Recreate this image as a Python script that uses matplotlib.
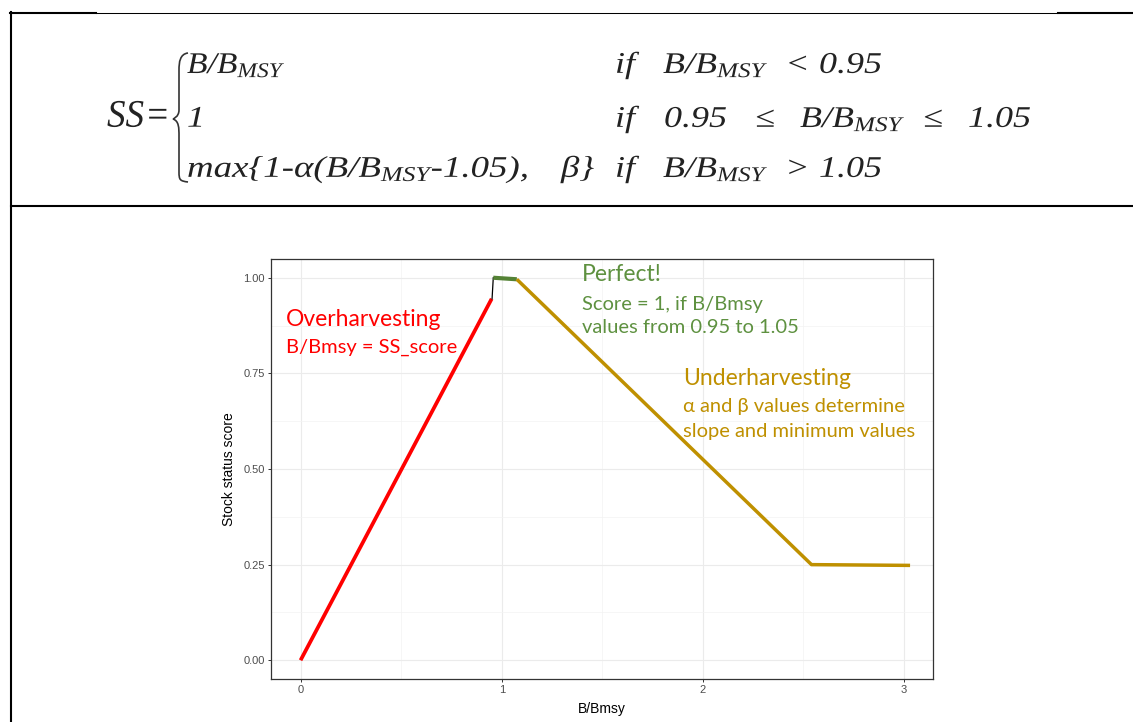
"""
Stock status score: piecewise formula on top, ggplot-style curve below.
"""

import matplotlib
matplotlib.use('Agg')
import matplotlib.pyplot as plt
from matplotlib.path import Path
from matplotlib.patches import PathPatch
from matplotlib.textpath import TextPath
from matplotlib.transforms import Affine2D

# =============================================================================
# DATA
# =============================================================================

over_x = [0.0, 0.95]
over_y = [0.0, 0.945]
jump_x = [0.952, 0.958]
jump_y = [0.945, 1.0]
perfect_x = [0.958, 1.075]
perfect_y = [1.0, 0.996]
under_x = [1.075, 2.54, 3.03]
under_y = [0.996, 0.25, 0.248]

x_ticks = [0, 1, 2, 3]
y_ticks = [0.0, 0.25, 0.5, 0.75, 1.0]
y_tick_labels = ['0.00', '0.25', '0.50', '0.75', '1.00']

RED = '#FF0000'
GREEN = '#5E9140'
GREEN_LINE = '#548235'
GOLD = '#BF9000'
INK = '#222222'

W, H = 1133, 722

plt.rcParams['mathtext.fontset'] = 'custom'
plt.rcParams['mathtext.rm'] = 'Liberation Serif:italic'
plt.rcParams['mathtext.it'] = 'Liberation Serif:italic'
plt.rcParams['mathtext.fallback'] = 'stix'

fig = plt.figure(figsize=(W / 100, H / 100), dpi=100)

# =============================================================================
# CHART
# =============================================================================

ax_l, ax_r, ax_t, ax_b = 271, 933, 259, 679
ax = fig.add_axes([ax_l / W, (H - ax_b) / H, (ax_r - ax_l) / W, (ax_b - ax_t) / H])
ax.set_xlim(-0.147, 3.144)
ax.set_ylim(-0.049, 1.049)

ax.plot(over_x, over_y, color=RED, lw=2.7, solid_capstyle='butt', zorder=3)
ax.plot(jump_x, jump_y, color='black', lw=0.9, zorder=3)
ax.plot(perfect_x, perfect_y, color=GREEN_LINE, lw=3.0, solid_capstyle='butt', zorder=3)
ax.plot(under_x, under_y, color=GOLD, lw=2.5, solid_capstyle='butt', zorder=3)

ax.set_xticks(x_ticks)
ax.set_xticks([0.5, 1.5, 2.5], minor=True)
ax.set_yticks(y_ticks)
ax.set_yticklabels(y_tick_labels)
ax.set_yticks([0.125, 0.375, 0.625, 0.875], minor=True)
ax.grid(which='major', color='#EBEBEB', lw=0.8)
ax.grid(which='minor', color='#F3F3F3', lw=0.5)
ax.set_axisbelow(True)
for sp in ax.spines.values():
    sp.set_color('#333333')
    sp.set_linewidth(0.9)
ax.tick_params(which='major', length=2.5, width=0.7, color='#333333',
               labelsize=8, labelcolor='#4D4D4D', pad=2)
ax.tick_params(which='minor', length=0)
for lab in ax.get_xticklabels() + ax.get_yticklabels():
    lab.set_family('Liberation Sans')
ax.set_xlabel('B/Bmsy', fontsize=10, family='Liberation Sans', labelpad=5)
ax.set_ylabel('Stock status score', fontsize=10, family='Liberation Sans', labelpad=5)

# =============================================================================
# OVERLAY (table lines, formula, annotations) in pixel coordinates
# =============================================================================

ov = fig.add_axes([0, 0, 1, 1])
ov.set_xlim(0, W)
ov.set_ylim(H, 0)
ov.axis('off')

thick, thin = 1.5, 0.75
ov.plot([10, 96], [12.5, 12.5], color='black', lw=thick)
ov.plot([96, 1058], [12.5, 12.5], color='black', lw=thin)
ov.plot([1058, W], [12.5, 12.5], color='black', lw=thick)
ov.plot([11, 11], [12, H], color='black', lw=thick)
ov.plot([11, W], [205.5, 205.5], color='black', lw=thick)

# brace
brace = Path(
    [(188, 53), (180, 54), (179, 62), (179, 70),
     (179, 110), (179, 117), (173, 119), (173, 119),
     (173, 119), (179, 121), (179, 128), (179, 136),
     (179, 172), (179, 180), (180, 181), (188, 182)],
    [Path.MOVETO, Path.CURVE4, Path.CURVE4, Path.CURVE4,
     Path.LINETO, Path.CURVE4, Path.CURVE4, Path.CURVE4,
     Path.LINETO, Path.CURVE4, Path.CURVE4, Path.CURVE4,
     Path.LINETO, Path.CURVE4, Path.CURVE4, Path.CURVE4])
ov.add_patch(PathPatch(brace, facecolor='none', edgecolor='#333333', lw=1.2))


def formula(x, y, s, size=30, sx=1.2):
    # text drawn as a path so it can be stretched sideways like the original
    tp = TextPath((0, 0), s, size=size)
    path = Affine2D().scale(sx, -1).translate(x, y).transform_path(tp)
    ov.add_patch(PathPatch(path, facecolor=INK, edgecolor='none', lw=0))


formula(107, 127, r'$SS\!=$', size=39, sx=0.95)
formula(187, 73, r'$B/B_{MSY}$', sx=1.12)
formula(187, 127, r'$1$')
formula(187, 177, r'$max\{1\text{-}\alpha(B/B_{MSY}\text{-}1.05),\ \ \ \beta\}$', sx=1.23)

# right column, one token at a time
rows = [
    (73, [(615, r'$if$'), (663, r'$B/B_{MSY}$'), (780, r'$<$'), (819, r'$0.95$')]),
    (127, [(615, r'$if$'), (664, r'$0.95$'), (750, r'$\leq$'), (800, r'$B/B_{MSY}$'),
           (918, r'$\leq$'), (968, r'$1.05$')]),
    (177, [(615, r'$if$'), (663, r'$B/B_{MSY}$'), (780, r'$>$'), (819, r'$1.05$')]),
]
for yb, toks in rows:
    for xt, s in toks:
        formula(xt, yb, s)

# annotations
big, small = 16.5, 14.5
ov.text(286, 326, 'Overharvesting', fontsize=big, color=RED, family='Lato', va='baseline')
ov.text(286, 353, 'B/Bmsy = SS_score', fontsize=small, color=RED, family='Lato', va='baseline')
ov.text(582, 281, 'Perfect!', fontsize=big, color=GREEN, family='Lato', va='baseline')
ov.text(582, 310, 'Score = 1, if B/Bmsy', fontsize=small, color=GREEN, family='Lato', va='baseline')
ov.text(582, 333, 'values from 0.95 to 1.05', fontsize=small, color=GREEN, family='Lato', va='baseline')
ov.text(683, 385, 'Underharvesting', fontsize=big, color=GOLD, family='Lato', va='baseline')
ov.text(683, 412, 'α and β values determine', fontsize=small, color=GOLD, family='Lato', va='baseline')
ov.text(683, 437, 'slope and minimum values', fontsize=small, color=GOLD, family='Lato', va='baseline')

fig.savefig('out.png', dpi=100)
